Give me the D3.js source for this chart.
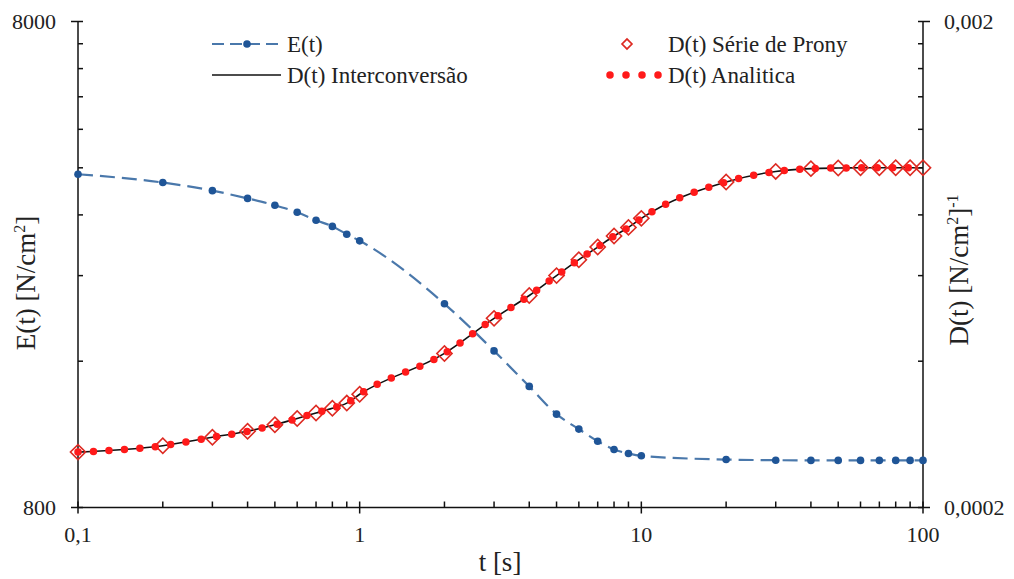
<!DOCTYPE html>
<html>
<head>
<meta charset="utf-8">
<script src="https://cdn.jsdelivr.net/npm/d3@7"></script>
<style>
  body { margin: 0; background: #fff; }
  svg text { font-family: "Liberation Serif", "Times New Roman", serif; fill: #222; }
</style>
</head>
<body>
<div id="canvas"></div>
<script>
// time points [s]
var times = [0.1, 0.2, 0.3, 0.4, 0.5, 0.6, 0.7, 0.8, 0.9, 1, 2, 3, 4, 5, 6, 7, 8, 9, 10,
             20, 30, 40, 50, 60, 70, 80, 90, 100];
// relaxation modulus E(t) [N/cm2]
var eValues = [3880, 3730, 3590, 3460, 3350, 3240, 3120, 3030, 2920, 2830, 2100, 1680, 1420,
               1245, 1160, 1095, 1053, 1033, 1022, 1004, 1001, 1000, 1000, 1000, 1000, 1000, 1000, 1000];
// creep compliance D(t) [N/cm2]^-1
var dValues = [0.000260, 0.000268, 0.000279, 0.000287, 0.000296, 0.000305, 0.000313, 0.000320,
               0.000328, 0.000342, 0.000415, 0.000490, 0.000546, 0.000600, 0.000647, 0.000687,
               0.000724, 0.000754, 0.000787, 0.000935, 0.000983, 0.000996, 0.000999, 0.001,
               0.001, 0.001, 0.001, 0.001];

var xMajor = [0.1, 1, 10, 100];
var xLabels = ["0,1", "1", "10", "100"];
var eDomain = [800, 8000];
var eLabels = ["800", "8000"];
var dDomain = [0.0002, 0.002];
var dLabels = ["0,0002", "0,002"];

var W = 1014, H = 579;
var plotLeft = 78, plotRight = 923, plotTop = 21.5, plotBottom = 507.5;

var svg = d3.select("#canvas").append("svg").attr("width", W).attr("height", H);

var x = d3.scaleLog().domain([0.1, 100]).range([plotLeft, plotRight]);
var yE = d3.scaleLog().domain(eDomain).range([plotBottom, plotTop]);
var yD = d3.scaleLog().domain(dDomain).range([plotBottom, plotTop]);

// minor tick values: k * 10^n
var xMinor = [];
[0.1, 1, 10].forEach(function(b) { for (var k = 2; k <= 9; k++) xMinor.push(b * k); });
var eMinor = [], dMinor = [];
for (var k = 2; k <= 9; k++) { eMinor.push(eDomain[0] * k); dMinor.push(dDomain[0] * k); }

var axisG = svg.append("g").attr("stroke", "#111").attr("stroke-width", 1.5);

// axis lines
axisG.append("line").attr("x1", plotLeft).attr("x2", plotRight).attr("y1", plotBottom).attr("y2", plotBottom);
axisG.append("line").attr("x1", plotLeft).attr("x2", plotLeft).attr("y1", plotTop).attr("y2", plotBottom);
axisG.append("line").attr("x1", plotRight).attr("x2", plotRight).attr("y1", plotTop).attr("y2", plotBottom);

// x ticks
axisG.selectAll(".xmaj").data(xMajor).enter().append("line")
  .attr("x1", d => x(d)).attr("x2", d => x(d)).attr("y1", plotBottom - 6).attr("y2", plotBottom + 6);
axisG.selectAll(".xmin").data(xMinor).enter().append("line")
  .attr("x1", d => x(d)).attr("x2", d => x(d)).attr("y1", plotBottom - 6).attr("y2", plotBottom);

// left ticks
axisG.selectAll(".emaj").data(eDomain).enter().append("line")
  .attr("x1", plotLeft - 7).attr("x2", plotLeft + 5).attr("y1", d => yE(d)).attr("y2", d => yE(d));
axisG.selectAll(".emin").data(eMinor).enter().append("line")
  .attr("x1", plotLeft).attr("x2", plotLeft + 5).attr("y1", d => yE(d)).attr("y2", d => yE(d));

// right ticks
axisG.selectAll(".dmaj").data(dDomain).enter().append("line")
  .attr("x1", plotRight - 5).attr("x2", plotRight + 7).attr("y1", d => yD(d)).attr("y2", d => yD(d));
axisG.selectAll(".dmin").data(dMinor).enter().append("line")
  .attr("x1", plotRight - 5).attr("x2", plotRight).attr("y1", d => yD(d)).attr("y2", d => yD(d));

// tick labels
svg.selectAll(".xl").data(xMajor).enter().append("text")
  .attr("x", d => x(d)).attr("y", 542).attr("text-anchor", "middle")
  .attr("font-size", 22).text((d, i) => xLabels[i]);
svg.selectAll(".el").data(eDomain).enter().append("text")
  .attr("x", 56).attr("y", d => yE(d)).attr("dy", "0.35em").attr("text-anchor", "end")
  .attr("font-size", 22).text((d, i) => eLabels[i]);
svg.selectAll(".dl").data(dDomain).enter().append("text")
  .attr("x", 944).attr("y", d => yD(d)).attr("dy", "0.35em").attr("text-anchor", "start")
  .attr("font-size", 22).text((d, i) => dLabels[i]);

// axis titles
svg.append("text").attr("x", 500).attr("y", 571).attr("text-anchor", "middle")
  .attr("font-size", 27).text("t [s]");

var lt = svg.append("text").attr("transform", "translate(35,283) rotate(-90)")
  .attr("text-anchor", "middle").attr("font-size", 27);
lt.append("tspan").text("E(t)  [N/cm");
lt.append("tspan").attr("font-size", 16).attr("dy", -10).text("2");
lt.append("tspan").attr("dy", 10).text("]");

var rt = svg.append("text").attr("transform", "translate(968,270) rotate(-90)")
  .attr("text-anchor", "middle").attr("font-size", 27);
rt.append("tspan").text("D(t)  [N/cm");
rt.append("tspan").attr("font-size", 16).attr("dy", -10).text("2");
rt.append("tspan").attr("dy", 10).text("]");
rt.append("tspan").attr("font-size", 16).attr("dy", -10).text("-1");

// series
var eLine = d3.line().x((d, i) => x(times[i])).y(d => yE(d)).curve(d3.curveMonotoneX);
var dLine = d3.line().x((d, i) => x(times[i])).y(d => yD(d)).curve(d3.curveMonotoneX);

var eColor = "#4a78ab", eMark = "#1f5597", red = "#ff1a1a";

svg.append("path").datum(eValues).attr("d", eLine)
  .attr("fill", "none").attr("stroke", eColor).attr("stroke-width", 2.2)
  .attr("stroke-dasharray", "15,7");
svg.selectAll(".em").data(eValues).enter().append("circle")
  .attr("cx", (d, i) => x(times[i])).attr("cy", d => yE(d)).attr("r", 3.8).attr("fill", eMark);

svg.append("path").datum(dValues).attr("d", dLine)
  .attr("fill", "none").attr("stroke", "#111").attr("stroke-width", 1.6);

var diamond = d3.symbol().type(d3.symbolSquare).size(115);
svg.selectAll(".pm").data(dValues).enter().append("path")
  .attr("d", diamond)
  .attr("transform", (d, i) => "translate(" + x(times[i]) + "," + yD(d) + ") rotate(45)")
  .attr("fill", "none").attr("stroke", "#dd2a22").attr("stroke-width", 1.6);

svg.append("path").datum(dValues).attr("d", dLine)
  .attr("fill", "none").attr("stroke", red).attr("stroke-width", 7.5)
  .attr("stroke-linecap", "round").attr("stroke-dasharray", "0,15.5");

// legend
var lg = svg.append("g");
lg.append("line").attr("x1", 212).attr("x2", 281).attr("y1", 44).attr("y2", 44)
  .attr("stroke", eColor).attr("stroke-width", 2.2).attr("stroke-dasharray", "12,6");
lg.append("circle").attr("cx", 247).attr("cy", 44).attr("r", 3.8).attr("fill", eMark);
lg.append("text").attr("x", 287).attr("y", 52).attr("font-size", 23).text("E(t)");

lg.append("line").attr("x1", 212).attr("x2", 281).attr("y1", 75).attr("y2", 75)
  .attr("stroke", "#111").attr("stroke-width", 1.6);
lg.append("text").attr("x", 287).attr("y", 83).attr("font-size", 23).text("D(t) Interconversão");

lg.append("path").attr("d", d3.symbol().type(d3.symbolSquare).size(50))
  .attr("transform", "translate(627,44) rotate(45)")
  .attr("fill", "none").attr("stroke", "#dd2a22").attr("stroke-width", 1.6);
lg.append("text").attr("x", 668).attr("y", 52).attr("font-size", 23).text("D(t) Série de Prony");

lg.append("line").attr("x1", 610).attr("x2", 659).attr("y1", 75).attr("y2", 75)
  .attr("stroke", red).attr("stroke-width", 7.5).attr("stroke-linecap", "round")
  .attr("stroke-dasharray", "0,16");
lg.append("text").attr("x", 668).attr("y", 83).attr("font-size", 23).text("D(t) Analitica");
</script>
</body>
</html>
